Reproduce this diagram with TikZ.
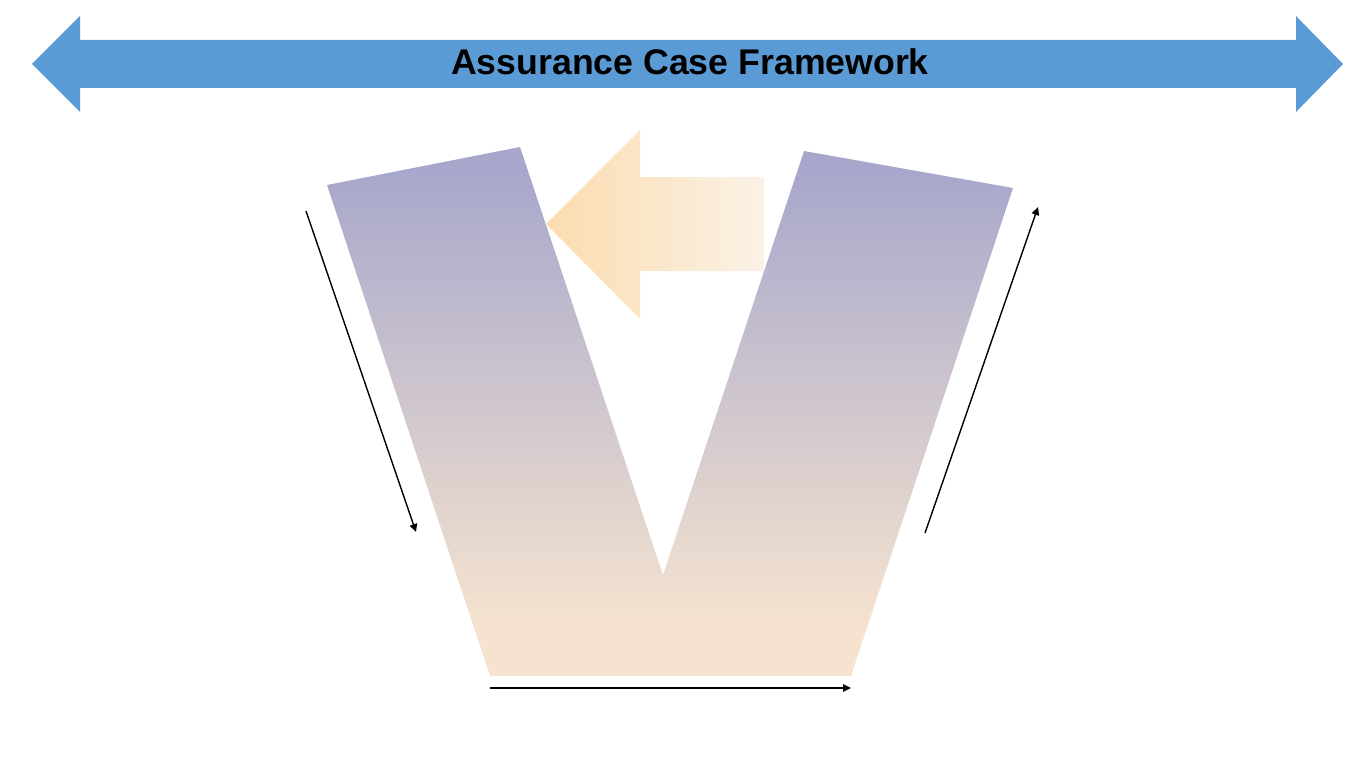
\documentclass[tikz,border=0pt]{standalone}
\usepackage{fontspec}
\setmainfont{Liberation Sans}
\usepackage{xcolor}
\usepackage{tikz}
\usetikzlibrary{arrows.meta,positioning,calc}
\definecolor{frameblue}{HTML}{5B9BD5}
\definecolor{vpurple}{HTML}{A7A7CC}
\definecolor{vpeach}{HTML}{F5E3CF}
\definecolor{arrowdeep}{HTML}{FBDCAF}
\definecolor{arrowpale}{HTML}{FAF2E6}
\pgfdeclareverticalshading{vfade}{100bp}{color(0bp)=(vpeach); color(30bp)=(vpeach); color(73bp)=(vpurple); color(100bp)=(vpurple)}
\tikzset{
  banner/.style={fill=frameblue, draw=none},
  vshape/.style={shading=vfade, draw=none},
  backarrow/.style={left color=arrowdeep, right color=arrowpale, draw=none},
  line/.style={-{Triangle[length=1.6mm, width=1.5mm]}, line width=0.8pt},
  title/.style={font=\fontsize{20.3}{24}\selectfont\bfseries, inner sep=0pt}
}
\begin{document}
\begin{tikzpicture}[x=0.02cm, y=-0.02cm]
        \useasboundingbox (0,0) rectangle (1368,767);
        \fill[banner] (32,64) -- (80,16) -- (80,40) -- (1296,40) -- (1296,16) -- (1343,64)
          -- (1296,112) -- (1296,88) -- (80,88) -- (80,112) -- cycle;
        \node[title] (frame) at (690,62) {Assurance Case Framework};
        \shade[vshape] (327,185) -- (520,147) -- (663,575) -- (804,151) -- (1013,188)
          -- (851,676) -- (490,676) -- cycle;
        \shade[backarrow] (546,224) -- (640,130) -- (640,177) -- (764,177) -- (764,271)
          -- (640,271) -- (640,319) -- cycle;
        \coordinate (downstart) at (306,211);
        \coordinate (downend) at (416,532);
        \coordinate (acrossstart) at (490,688);
        \coordinate (acrossend) at (851,688);
        \coordinate (upstart) at (925,533);
        \coordinate (upend) at (1038,207);
        \draw[line] (downstart) -- (downend);
        \draw[line] (acrossstart) -- (acrossend);
        \draw[line] (upstart) -- (upend);
      \end{tikzpicture}
\end{document}
